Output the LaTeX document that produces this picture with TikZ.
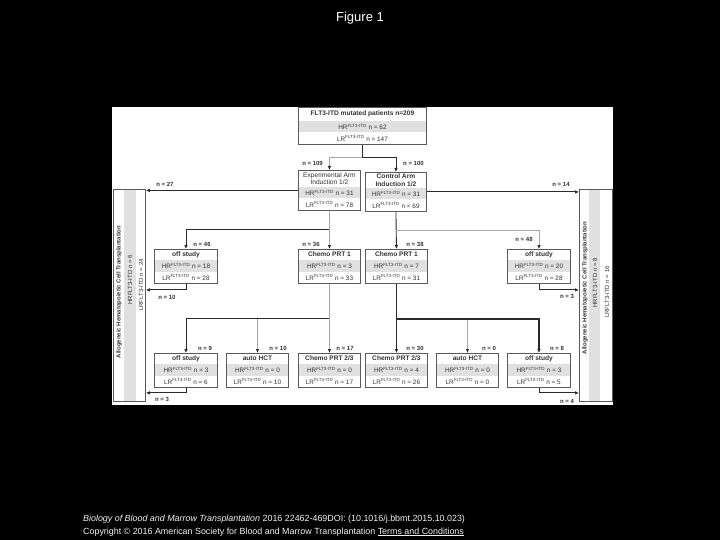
\documentclass[tikz,border=0pt]{standalone}
\usepackage{fontspec}
\setmainfont{Liberation Sans}
\usetikzlibrary{arrows.meta,calc}
\definecolor{bandgray}{HTML}{E0E0E0}
\definecolor{frameclr}{HTML}{5A5A5A}
\definecolor{dkline}{HTML}{2A2A2A}
\definecolor{ltline}{HTML}{A8A8A8}
\definecolor{txtclr}{HTML}{333333}
\definecolor{capclr}{HTML}{F2F2F2}
\tikzset{
  boxframe/.style={draw=frameclr, line width=0.9pt, inner sep=0pt, anchor=north west},
  boxtitle/.style={font=\fontsize{6.6}{7.4}\selectfont\bfseries, text=txtclr, inner sep=0pt, align=center},
  boxrow/.style={font=\fontsize{6.4}{7}\selectfont, text=txtclr, inner sep=0pt},
  nlabel/.style={font=\fontsize{6}{7}\selectfont\bfseries, text=txtclr, inner sep=0pt},
  bartext/.style={font=\fontsize{6}{7}\selectfont, text=txtclr, inner sep=0pt, rotate=90},
  dk/.style={draw=dkline, line width=0.9pt},
  dkthick/.style={draw=dkline, line width=1.2pt},
  lt/.style={draw=ltline, line width=0.7pt},
  tip/.style={-{Latex[length=4pt,width=3.6pt,color=dkline]}},
}
% #1 name, #2 x left, #3 y top, #4 width, #5 title height, #6 title, #7 HR n, #8 LR n
\newcommand{\flowbox}[8]{%
  \fill[bandgray] (#2,#3+#5) rectangle (#2+#4,#3+#5+11.5);
  \fill[white] (#2,#3) rectangle (#2+#4,#3+#5);
  \fill[white] (#2,#3+#5+11.5) rectangle (#2+#4,#3+#5+23);
  \node[boxframe, minimum width=#4pt, minimum height={#5pt+23pt}] (#1) at (#2,#3) {};
  \node[boxtitle] (#1-t) at ($(#1.north)+(0,#5/2)$) {#6};
  \node[boxrow] (#1-h) at ($(#1.north)+(0,#5+5.9)$) {HR\textsuperscript{FLT3-ITD} n = #7};
  \node[boxrow] (#1-l) at ($(#1.north)+(0,#5+17.3)$) {LR\textsuperscript{FLT3-ITD} n = #8};
}
\begin{document}
\begin{tikzpicture}[x=1pt,y=-1pt]
\useasboundingbox (0,0) rectangle (720,540);
\fill[black] (0,0) rectangle (720,540);
\fill[white] (112,107) rectangle (613,405);

% title and caption
\node[font=\fontsize{13}{15}\selectfont, text=white, inner sep=0pt] (figtitle) at (360,18) {Figure 1};
\node[font=\fontsize{8.9}{10}\selectfont, text=capclr, inner sep=0pt, anchor=west] (cap1) at (83,519)
  {\textit{Biology of Blood and Marrow Transplantation} 2016 22462-469DOI: (10.1016/j.bbmt.2015.10.023)};
\node[font=\fontsize{8.9}{10}\selectfont, text=capclr, inner sep=0pt, anchor=west] (cap2) at (83,532)
  {Copyright © 2016 American Society for Blood and Marrow Transplantation \underline{Terms and Conditions}};

% side bars
\fill[bandgray] (124,189) rectangle (136,401);
\node[boxframe, minimum width=32pt, minimum height=212pt] (allL) at (113,189) {};
\node[bartext, font=\fontsize{6}{7}\selectfont\bfseries] (allLa) at (119,292) {Allogeneic Hematopoietic Cell Transplantation};
\node[bartext] (allLb) at (130,280) {HRFLT3-ITD n = 6};
\node[bartext] (allLc) at (141,285) {LRFLT3-ITD n = 24};

\fill[bandgray] (589,189) rectangle (600,401);
\node[boxframe, minimum width=33pt, minimum height=212pt] (allR) at (579,189) {};
\node[bartext, font=\fontsize{6}{7}\selectfont\bfseries] (allRa) at (585,288) {Allogeneic Hematopoietic Cell Transplantation};
\node[bartext] (allRb) at (595,283) {HRFLT3-ITD n = 8};
\node[bartext] (allRc) at (607,292) {LRFLT3-ITD n = 16};

% boxes
\flowbox{top}{298}{107}{128}{14}{FLT3-ITD mutated patients n=209}{62}{147}
\flowbox{exp}{298}{170}{62}{17}{\mdseries Experimental Arm\\\mdseries Induction 1/2}{31}{78}
\flowbox{ctrl}{365}{172}{61}{16}{Control Arm\\Induction 1/2}{31}{69}

\flowbox{offL}{154}{249}{63}{11}{off study}{18}{28}
\flowbox{chL}{298}{249}{62}{11}{Chemo PRT 1}{3}{33}
\flowbox{chR}{365}{249}{62}{11}{Chemo PRT 1}{7}{31}
\flowbox{offR}{507}{249}{63}{11}{off study}{20}{28}

\flowbox{oL}{154}{353}{63}{11}{off study}{3}{6}
\flowbox{aL}{226}{353}{62}{11}{auto HCT}{0}{10}
\flowbox{cL}{298}{353}{62}{11}{Chemo PRT 2/3}{0}{17}
\flowbox{cR}{365}{353}{62}{11}{Chemo PRT 2/3}{4}{26}
\flowbox{aR}{436}{353}{62}{11}{auto HCT}{0}{0}
\flowbox{oR}{507}{353}{63}{11}{off study}{3}{5}

% connectors: top to arms
\coordinate (j0) at ($(top.south)+(0,12.5)$);
\draw[dk] (top.south) -- (j0);
\draw[lt, tip] (j0) -| (exp.north);
\draw[dk, tip] (j0) -| (ctrl.north);
\draw[dk, tip] (exp.west) -- (exp.west -| allL.east);
\draw[dk, tip] (ctrl.east) -- (ctrl.east -| allR.west);

% arms to second row
\coordinate (j1) at ($(exp.south)+(0,19)$);
\coordinate (j2) at ($(ctrl.south)+(0,18)$);
\draw[lt] (exp.south) -- (j1);
\draw[dk, tip] (j1) -| (offL.north);
\draw[lt, tip] (j1) -- (chL.north);
\draw[dk, tip] (ctrl.south) -- (chR.north);
\draw[lt, tip] (j2) -| (offR.north);

% second row exits
\coordinate (e1) at ($(offL.south)+(0,6)$);
\coordinate (e2) at ($(offR.south)+(0,6)$);
\draw[dk, tip] (offL.south) -- (e1) -- (e1 -| allL.east);
\draw[dk, tip] (offR.south) -- (e2) -- (e2 -| allR.west);

% second row to third row
\coordinate (j3) at ($(chL.south)+(0,35)$);
\coordinate (j4) at ($(chR.south)+(0,35)$);
\draw[lt] (chL.south) -- (j3);
\draw[lt, tip] (j3 -| aL.north) -- (aL.north);
\draw[lt, tip] (j3) -- (cL.north);
\draw[dk, tip] (j3) -| (oL.north);
\draw[lt, tip] (j4 -| aR.north) -- (aR.north);
\draw[dkthick, tip] (chR.south) -- (cR.north);
\draw[dkthick, tip] (j4) -| (oR.north);

% third row exits
\coordinate (e3) at ($(oL.south)+(0,5)$);
\coordinate (e4) at ($(oR.south)+(0,5)$);
\draw[dk, tip] (oL.south) -- (e3) -- (e3 -| allL.east);
\draw[dk, tip] (oR.south) -- (e4) -- (e4 -| allR.west);

% labels
\node[nlabel, anchor=east] (l1) at (323,163) {n = 109};
\node[nlabel, anchor=west] (l2) at (403,163) {n = 100};
\node[nlabel] (l3) at (165,184) {n = 27};
\node[nlabel] (l4) at (561,184) {n = 14};
\node[nlabel] (l5) at (202,244) {n = 46};
\node[nlabel] (l6) at (311,244) {n = 36};
\node[nlabel] (l7) at (415,244) {n = 38};
\node[nlabel] (l8) at (524,239) {n = 48};
\node[nlabel] (l9) at (167,297) {n = 10};
\node[nlabel] (l10) at (567,296) {n = 3};
\node[nlabel] (l11) at (205,348) {n = 9};
\node[nlabel] (l12) at (278,348) {n = 10};
\node[nlabel] (l13) at (345,348) {n = 17};
\node[nlabel] (l14) at (415,348) {n = 30};
\node[nlabel] (l15) at (489,348) {n = 0};
\node[nlabel] (l16) at (557,348) {n = 8};
\node[nlabel] (l17) at (162,399) {n = 3};
\node[nlabel] (l18) at (567,401) {n = 4};
\end{tikzpicture}
\end{document}
